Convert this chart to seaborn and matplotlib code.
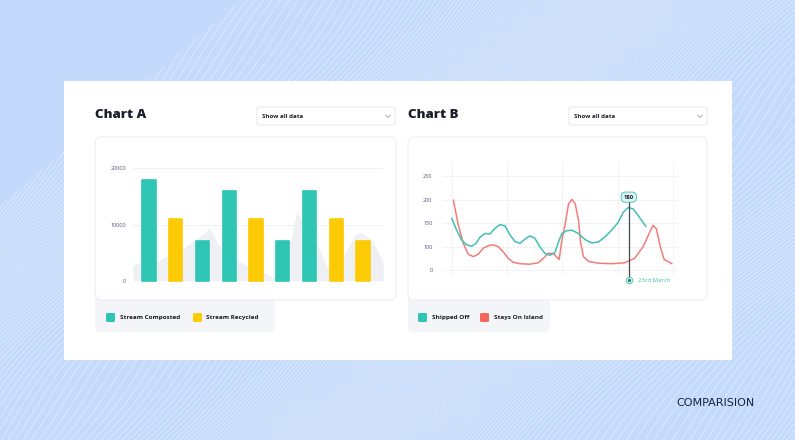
import numpy as np
import pandas as pd
import matplotlib
matplotlib.use("Agg")
import matplotlib.pyplot as plt
import seaborn as sns
from matplotlib.patches import FancyBboxPatch

# ---------------- data ----------------
bar_slots = ["1", "2", "3", "4", "5", "6", "7", "8", "9"]
bar_series = ["Stream Composted", "Stream Recycled", "Stream Composted",
              "Stream Composted", "Stream Recycled", "Stream Composted",
              "Stream Composted", "Stream Recycled", "Stream Recycled"]
bar_values = [18000, 11000, 7000, 16000, 11000, 7000, 16000, 11000, 7000]
yticks_a = [0, 10000, 20000]

area_x = [-0.60, -0.35, 0.34, 0.59, 1.21, 1.64, 2.27, 2.64, 3.44, 3.78,
          4.27, 4.64, 5.33, 5.52, 6.33, 6.64, 7.26, 7.70, 7.89, 8.33, 8.76]
area_v = [2790, 3100, 3380, 4270, 5460, 6940, 9320, 6050, 3330, 2260,
          1600, 480, 7830, 12280, 6050, 2490, 4270, 8130, 8660, 7240, 3380]

shipped_x = [-0.05, 0.85, 1.75, 2.66, 3.56, 4.34, 5.07, 5.97, 6.88, 7.78,
             8.69, 9.59, 10.5, 11.4, 12.3, 13.2, 14.1, 15.0, 15.9, 16.8,
             17.7, 18.6, 19.4, 19.9, 20.8, 21.7, 22.9, 24.1, 25.3, 26.5,
             27.7, 28.9, 30.1, 31.0, 31.9, 32.8, 33.7, 35.1]
shipped_v = [160, 135, 114, 104, 101, 107, 120, 128, 127, 139,
             147, 144, 125, 111, 107, 116, 123, 118, 100, 86,
             82, 87, 114, 128, 134, 135, 128, 115, 108, 110,
             121, 135, 152, 173, 183, 180, 166, 143]

island_x = [0.24, 1.15, 2.05, 2.95, 3.86, 4.76, 5.67, 6.57, 7.48, 8.38,
            9.29, 10.2, 11.1, 12.3, 14.1, 15.6, 16.5, 17.4, 18.3, 18.9,
            19.4, 19.9, 20.5, 21.1, 21.7, 22.3, 22.9, 23.3, 23.8, 24.7,
            26.5, 28.9, 31.3, 33.1, 34.6, 35.8, 36.4, 37.0, 37.7, 38.4, 39.8]
island_v = [199, 146, 107, 84, 79, 84, 97, 102, 104, 100,
            89, 75, 67, 64, 63, 66, 75, 86, 86, 79,
            73, 114, 149, 191, 200, 191, 156, 107, 79, 69,
            65, 64, 66, 76, 100, 131, 145, 138, 100, 73, 64]
yticks_b = [50, 100, 150, 200, 250]
yticklabels_b = ["0", "100", "150", "200", "250"]
tip_x, tip_value, tip_label = 32.0, "180", "23rd March"

# ---------------- style ----------------
sns.set_style("white")
plt.rcParams["font.family"] = ["Open Sans", "DejaVu Sans"]

BG = "#c4dafc"
TEAL = "#2ec5b5"
YELLOW = "#fdcb05"
RED = "#f4655e"
TEAL_LINE = "#3fbfb5"
RED_LINE = "#f27d78"
DARK = "#1b1d2a"
TICK = "#55577a"

W, H = 795, 440
fig = plt.figure(figsize=(W / 100, H / 100), dpi=100, facecolor=BG)


def rect(x0, y0, x1, y1):
    return [x0 / W, 1 - y1 / H, (x1 - x0) / W, (y1 - y0) / H]


bg = fig.add_axes([0, 0, 1, 1], zorder=0)
bg.set_xlim(0, W)
bg.set_ylim(H, 0)
bg.axis("off")

# decorative wavy lines
gx, gy = np.meshgrid(np.linspace(0, W, 500), np.linspace(0, H, 280))
field = (gx + 0.9 * gy + 20 * np.sin(gy / 45 + gx / 110)
         + 30 * np.sin(gx / 90 + gy / 200))
field = np.ma.masked_where(gx + 1.17 * gy < 240, field)
bg.contour(gx, gy, field, levels=np.arange(0, 1600, 4.5), colors="white",
           linewidths=0.45, alpha=0.6, zorder=0)

# white panel
bg.add_patch(FancyBboxPatch((64, 81), 668, 279, boxstyle="square,pad=0",
                            fc="white", ec="none", zorder=1))


def rbox(x, y, w, h, fc, ec="none", r=6, lw=0.8, z=2):
    bg.add_patch(FancyBboxPatch((x, y), w, h,
                                boxstyle=f"round,pad=0,rounding_size={r}",
                                fc=fc, ec=ec, lw=lw, zorder=z))


for (cx0, cx1, lx1, title, dx0, items) in [
    (95, 396, 275, "Chart A", 257,
     [(106, TEAL, "Stream Composted"), (193, YELLOW, "Stream Recycled")]),
    (408, 707, 550, "Chart B", 569,
     [(418, TEAL, "Shipped Off"), (480, RED, "Stays On Island")]),
]:
    rbox(cx0, 285, lx1 - cx0, 47, "#f4f5f9", z=2)
    rbox(cx0, 137, cx1 - cx0, 163, "white", ec="#eceef4", z=3)
    bg.text(cx0, 115, title, fontsize=9.5, fontweight="heavy", color=DARK,
            va="center", ha="left", zorder=5)
    rbox(dx0, 107, 138, 18, "white", ec="#e6e9f0", r=2, lw=0.7, z=3)
    bg.text(dx0 + 5, 116.5, "Show all data", fontsize=4.4, fontweight="bold",
            color=DARK, va="center", ha="left", zorder=5)
    chx = dx0 + 131
    bg.plot([chx - 2.5, chx, chx + 2.5], [115, 117.5, 115], color="#a4a8b4",
            lw=0.6, zorder=5)
    for (sx, col, lab) in items:
        rbox(sx, 313, 9, 9, col, r=1.5, z=4)
        bg.text(sx + 13.5, 317.5, lab, fontsize=4.6, fontweight="bold",
                color=DARK, va="center", ha="left", zorder=5)

bg.text(715.5, 403, "COMPARISION", fontsize=8, color="#1a2340",
        ha="center", va="center", family=["DejaVu Sans"], zorder=5)

# ---------------- Chart A ----------------
axA = fig.add_axes(rect(133, 160, 383, 285), zorder=2)
axA.set_facecolor("none")
axA.fill_between(area_x, area_v, 0, color="#eef0f4", lw=0, zorder=0)
for v in yticks_a[1:]:
    axA.axhline(v, color="#eceef2", lw=0.6, zorder=0)
dfA = pd.DataFrame({"slot": bar_slots, "series": bar_series, "value": bar_values})
sns.barplot(data=dfA, x="slot", y="value", hue="series", order=bar_slots,
            palette={"Stream Composted": TEAL, "Stream Recycled": YELLOW},
            saturation=1, dodge=False, width=0.5, legend=False, ax=axA,
            zorder=2)
for p in axA.patches:
    p.set_edgecolor(p.get_facecolor())
    p.set_linewidth(1.2)
    p.set_joinstyle("round")
axA.set_xlim(-0.6, 8.75)
axA.set_ylim(-765, 21477)
axA.set_yticks(yticks_a)
axA.set_yticklabels([str(v) for v in yticks_a])
axA.set_xticks([])
axA.set_xlabel("")
axA.set_ylabel("")
axA.tick_params(axis="y", length=0, pad=5, labelsize=4, labelcolor=TICK)
sns.despine(ax=axA, left=True, bottom=True)

# ---------------- Chart B ----------------
axB = fig.add_axes(rect(438, 160, 680, 285), zorder=2)
axB.set_facecolor("none")
for xv in [0, 10, 20, 30, 40]:
    axB.vlines(xv, 41, 280, color="#f0f1f4", lw=0.6, zorder=0)
for yv in yticks_b:
    axB.hlines(yv, -1.8, 40.8, color="#f0f1f4", lw=0.6, zorder=0)
sns.lineplot(x=island_x, y=island_v, color=RED_LINE, lw=1.1, ax=axB, zorder=2)
sns.lineplot(x=shipped_x, y=shipped_v, color=TEAL_LINE, lw=1.1, ax=axB, zorder=3)
axB.vlines(tip_x, 29.4, 200, color="#3d4a4f", lw=0.9, zorder=4)
axB.text(tip_x, 205, tip_value, fontsize=4.2, fontweight="bold", color=DARK,
         ha="center", va="center", zorder=6,
         bbox=dict(boxstyle="round,pad=0.45,rounding_size=0.8", fc="#d9f4f2",
                   ec=TEAL_LINE, lw=0.6))
axB.scatter([tip_x], [29.4], s=22, facecolor="#e6f7f6", edgecolor=TEAL_LINE,
            lw=0.6, zorder=5)
axB.scatter([tip_x], [29.4], s=2, color="#2b7f7a", zorder=6)
axB.text(tip_x + 1.6, 29.4, tip_label, fontsize=4.3, color=TEAL_LINE,
         ha="left", va="center", zorder=6)
axB.set_xlim(-2.53, 41.27)
axB.set_ylim(18.9, 283.7)
axB.set_yticks(yticks_b)
axB.set_yticklabels(yticklabels_b)
axB.set_xticks([])
axB.tick_params(axis="y", length=0, pad=4, labelsize=4, labelcolor=TICK)
sns.despine(ax=axB, left=True, bottom=True)

fig.savefig("out.png", dpi=100, facecolor=BG)
